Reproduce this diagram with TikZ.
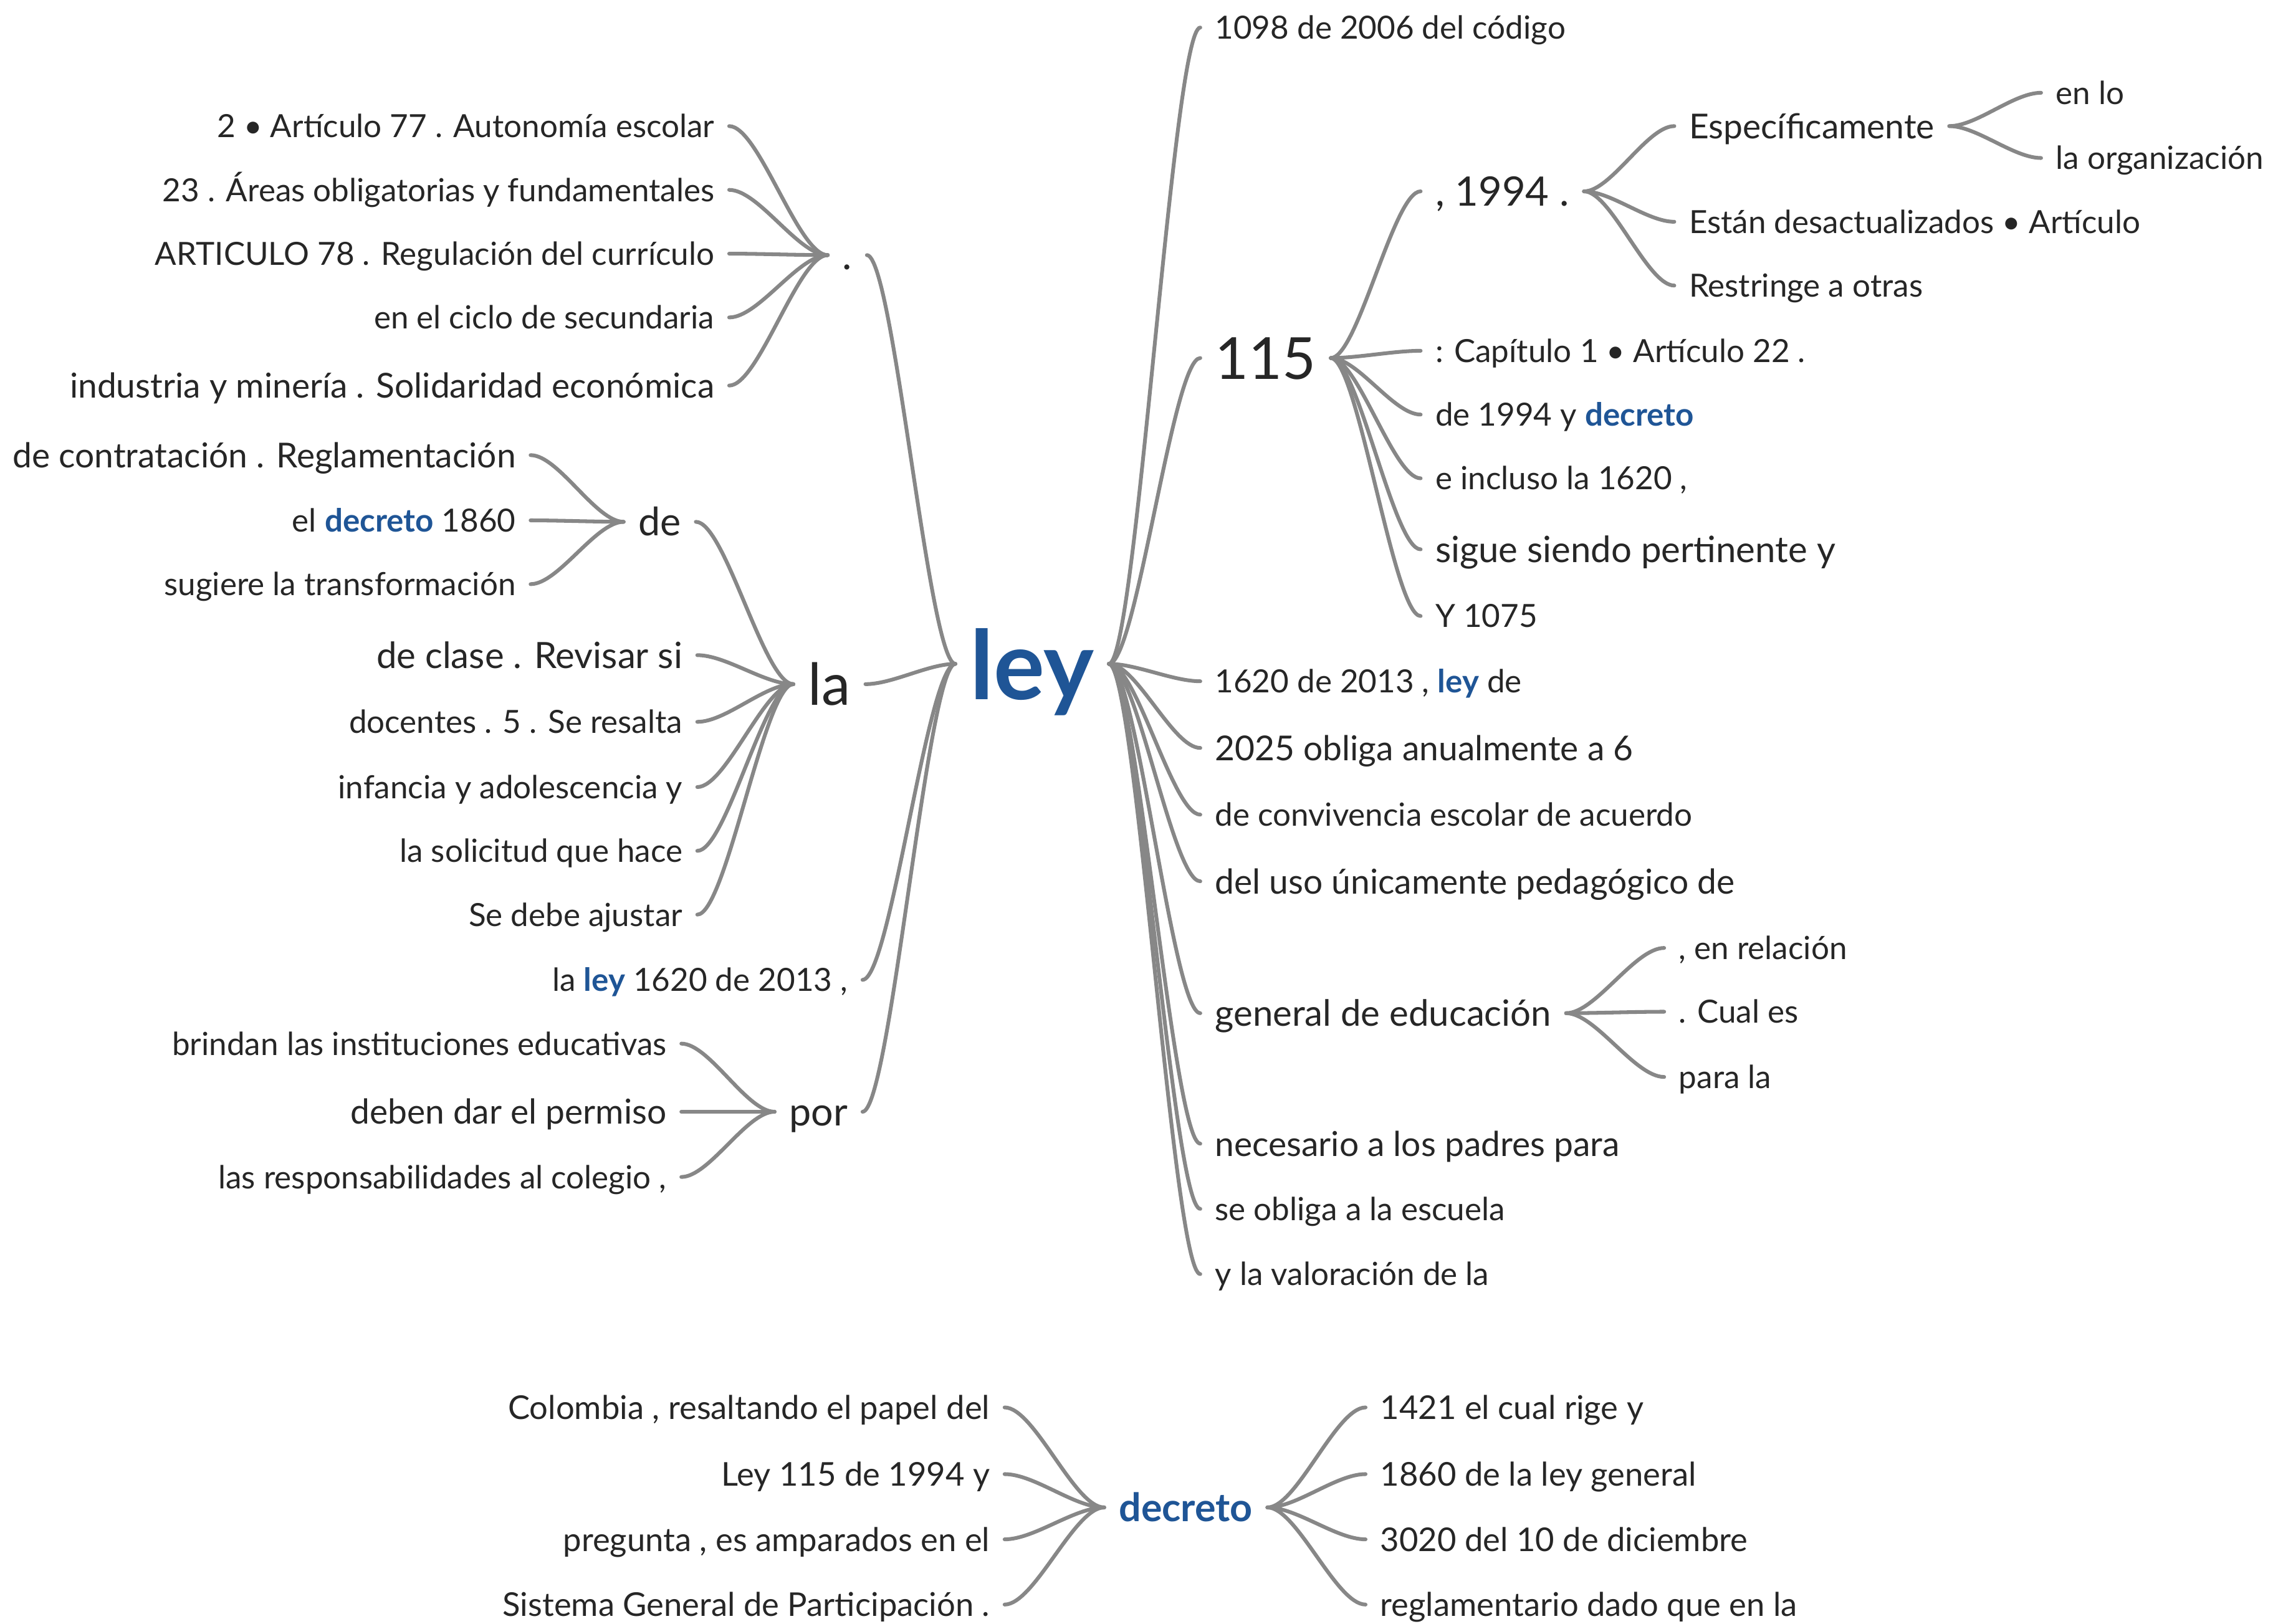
\documentclass[tikz,border=0pt]{standalone}
\usepackage{fontspec}
\setmainfont{Lato}
\usetikzlibrary{calc}
\definecolor{txt}{HTML}{262626}
\definecolor{lblue}{HTML}{1F5596}
\definecolor{lgray}{HTML}{878787}
\newcommand{\hl}[1]{{\color{lblue}\bfseries #1}}
\tikzset{
  fs/.style={font=\fontsize{#1}{#1}\selectfont, text height={0.72*#1pt}, text depth=0pt},
  base/.style={inner xsep=10pt, inner ysep=0pt, text=txt, fs=22},
  R/.style={base, anchor=west},
  L/.style={base, anchor=east},
  big/.style={fs=25},
  bigb/.style={fs=23.7},
  mid/.style={fs=28},
  midb/.style={fs=27},
  huge/.style={fs=40},
  bot/.style={fs=22.6},
  br/.style={to path={let \p1=(\tikztostart), \p2=(\tikztotarget) in
     .. controls ({\x1+0.3*(\x2-\x1)},\y1) and ({\x2-0.3*(\x2-\x1)},\y2) .. (\p2)}},
  con/.style={draw=lgray, line width=2.6pt, line cap=round},
}
\begin{document}
\begin{tikzpicture}[x=1pt,y=-1pt]
\useasboundingbox[fill=white] (0,0) rectangle (1568,1120);
% central
\node[inner xsep=10pt, inner ysep=0pt, text depth=0pt, anchor=center, text=lblue, font=\fontsize{66}{72}\selectfont\bfseries] (ley) at (712,458) {ley};
% right side
\node[R] (r1098) at (828,19) {1098 de 2006 del código};
\node[R,huge] (r115) at (828,247) {115};
\node[R] (r1620) at (828,470) {1620 de 2013 , \hl{ley} de};
\node[R,bigb] (r2025) at (828,516) {2025 obliga anualmente a 6};
\node[R] (rconv) at (828,562) {de convivencia escolar de acuerdo};
\node[R,bigb] (ruso) at (828,608) {del uso únicamente pedagógico de};
\node[R,big] (rgen) at (828,699) {general de educación};
\node[R,bigb] (rnec) at (828,789) {necesario a los padres para};
\node[R] (robl) at (828,834) {se obliga a la escuela};
\node[R] (rval) at (828,879) {y la valoración de la};
% 115 children
\node[R,mid] (r1994) at (980,132) {, 1994 .};
\node[R] (rcap) at (980,242) {: Capítulo 1 • Artículo 22 .};
\node[R] (rde) at (980,286) {de 1994 y \hl{decreto}};
\node[R] (rinc) at (980,330) {e incluso la 1620 ,};
\node[R,big] (rsig) at (980,379) {sigue siendo pertinente y};
\node[R] (ry) at (980,425) {Y 1075};
% 1994 children
\node[R,bigb] (resp) at (1155,87) {Específicamente};
\node[R] (rest) at (1155,153) {Están desactualizados • Artículo};
\node[R] (rres) at (1155,197) {Restringe a otras};
% especificamente children
\node[R] (renlo) at (1408,64) {en lo};
\node[R] (rorg) at (1408,109) {la organización};
% general children
\node[R] (rrel) at (1148,654) {, en relación};
\node[R] (rcual) at (1148,698) {. Cual es};
\node[R] (rpara) at (1148,743) {para la};
% left side
\node[L,mid] (ldot) at (598,176) {.};
\node[L,huge] (lla) at (597,472) {la};
\node[L] (lley) at (595,676) {la \hl{ley} 1620 de 2013 ,};
\node[L,midb] (lpor) at (595,767) {por};
% dot children
\node[L] (la1) at (503,87) {2 • Artículo 77 . Autonomía escolar};
\node[L] (la2) at (503,131) {23 . Áreas obligatorias y fundamentales};
\node[L] (la3) at (503,175) {ARTICULO 78 . Regulación del currículo};
\node[L] (la4) at (503,219) {en el ciclo de secundaria};
\node[L,bigb] (la5) at (503,266) {industria y minería . Solidaridad económica};
% la children
\node[L,midb] (lde) at (480,360) {de};
\node[L,big] (lb1) at (481,452) {de clase . Revisar si};
\node[L] (lb2) at (481,498) {docentes . 5 . Se resalta};
\node[L] (lb3) at (481,543) {infancia y adolescencia y};
\node[L] (lb4) at (481,587) {la solicitud que hace};
\node[L] (lb5) at (481,631) {Se debe ajustar};
% de children
\node[L,bigb] (lc1) at (366,314) {de contratación . Reglamentación};
\node[L] (lc2) at (366,359) {el \hl{decreto} 1860};
\node[L] (lc3) at (366,403) {sugiere la transformación};
% por children
\node[L] (ld1) at (470,720) {brindan las instituciones educativas};
\node[L,bigb] (ld2) at (470,767) {deben dar el permiso};
\node[L] (ld3) at (470,812) {las responsabilidades al colegio ,};
% bottom tree
\node[base, anchor=center, text=lblue, fs=27, font=\fontsize{27}{27}\selectfont\bfseries] (dec) at (818,1040) {decreto};
\node[L,bot] (dl1) at (693,971) {Colombia , resaltando el papel del};
\node[L,bot] (dl2) at (693,1017) {Ley 115 de 1994 y};
\node[L,bot] (dl3) at (693,1062) {pregunta , es amparados en el};
\node[L,bot] (dl4) at (693,1107) {Sistema General de Participación .};
\node[R,bot] (dr1) at (942,971) {1421 el cual rige y};
\node[R,bot] (dr2) at (942,1017) {1860 de la ley general};
\node[R,bot] (dr3) at (942,1062) {3020 del 10 de diciembre};
\node[R,bot] (dr4) at (942,1107) {reglamentario dado que en la};
% connectors
\foreach \c in {r1098,r115,r1620,r2025,rconv,ruso,rgen,rnec,robl,rval}
  \draw[con] (ley.east) to[br] (\c.west);
\foreach \c in {r1994,rcap,rde,rinc,rsig,ry}
  \draw[con] (r115.east) to[br] (\c.west);
\foreach \c in {resp,rest,rres}
  \draw[con] (r1994.east) to[br] (\c.west);
\foreach \c in {renlo,rorg}
  \draw[con] (resp.east) to[br] (\c.west);
\foreach \c in {rrel,rcual,rpara}
  \draw[con] (rgen.east) to[br] (\c.west);
\foreach \c in {ldot,lla,lley,lpor}
  \draw[con] (ley.west) to[br] (\c.east);
\foreach \c in {la1,la2,la3,la4,la5}
  \draw[con] (ldot.west) to[br] (\c.east);
\foreach \c in {lde,lb1,lb2,lb3,lb4,lb5}
  \draw[con] (lla.west) to[br] (\c.east);
\foreach \c in {lc1,lc2,lc3}
  \draw[con] (lde.west) to[br] (\c.east);
\foreach \c in {ld1,ld2,ld3}
  \draw[con] (lpor.west) to[br] (\c.east);
\foreach \c in {dl1,dl2,dl3,dl4}
  \draw[con] (dec.west) to[br] (\c.east);
\foreach \c in {dr1,dr2,dr3,dr4}
  \draw[con] (dec.east) to[br] (\c.west);
\end{tikzpicture}
\end{document}
